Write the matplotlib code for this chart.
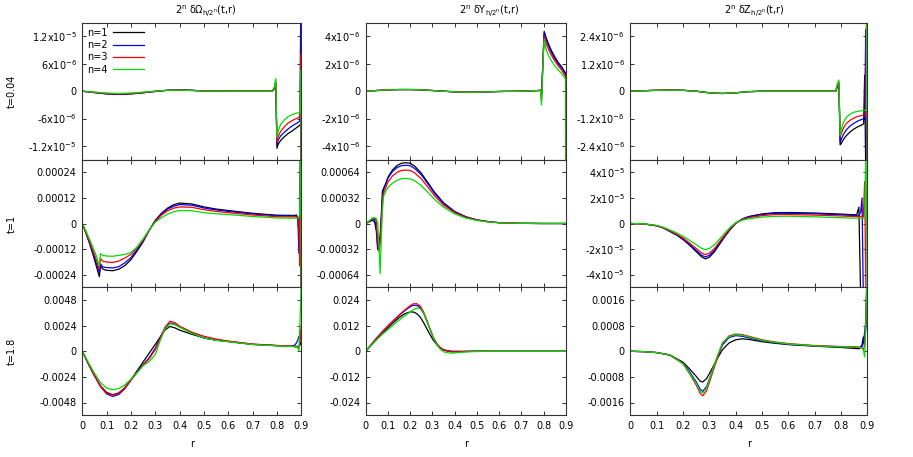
import numpy as np
from matplotlib import pyplot as plt

# curves: n=1..4, values in panel units (see *_unit)
labels = ['n=1', 'n=2', 'n=3', 'n=4']
colors = ['black', '#0000ff', '#ff0000', '#00dd00']

# ---- t=0.04, dOmega (units 1e-6)
om1_unit = 1e-6
om1_r = [0, 0.05, 0.1, 0.15, 0.2, 0.25, 0.3, 0.35, 0.4, 0.45, 0.5, 0.6, 0.7, 0.78, 0.79, 0.795,
         0.8, 0.805, 0.815, 0.83, 0.845, 0.86, 0.875, 0.888, 0.894, 0.898, 0.9]
om1_n1 = [0, -0.3, -0.6, -0.7, -0.6, -0.35, -0.05, 0.2, 0.3, 0.2, 0.05, 0, 0, 0, 0.6, 1.7,
          -12.5, -11.6, -10.8, -10.0, -9.3, -8.8, -8.2, -7.7, -7.4, -7.2, -20]
om1_n2 = [0, -0.3, -0.55, -0.65, -0.55, -0.3, -0.05, 0.2, 0.3, 0.2, 0.05, 0, 0, 0, 0.7, 2.0,
          -11.7, -10.7, -9.8, -9.0, -8.3, -7.7, -7.2, -6.8, -6.5, 20, -20]
om1_n3 = [0, -0.25, -0.5, -0.6, -0.5, -0.3, 0, 0.2, 0.25, 0.15, 0.05, 0, 0, 0, 0.8, 2.3,
          -11.2, -9.9, -8.8, -7.8, -7.0, -6.5, -6.1, -5.8, -5.5, 8, -20]
om1_n4 = [0, -0.2, -0.4, -0.5, -0.4, -0.2, 0, 0.2, 0.25, 0.15, 0.05, 0, 0, 0, 1.0, 2.8,
          -10.2, -8.7, -7.3, -6.3, -5.6, -5.2, -4.9, -4.7, -4.6, 4.6, -20]

# ---- t=0.04, dY (units 1e-6)
y1_unit = 1e-6
y1_r = [0, 0.05, 0.1, 0.15, 0.2, 0.25, 0.3, 0.35, 0.4, 0.45, 0.5, 0.55, 0.6, 0.7, 0.78, 0.785,
        0.79, 0.797, 0.802, 0.81, 0.82, 0.835, 0.85, 0.865, 0.88, 0.895, 0.899, 0.9]
y1_n1 = [0, 0.05, 0.1, 0.12, 0.12, 0.1, 0.05, 0, -0.05, -0.07, -0.07, -0.05, -0.02, 0, 0.05, 0.1,
         -0.3, 2.5, 4.36, 3.95, 3.5, 2.95, 2.5, 2.1, 1.8, 1.4, 1.3, -10]
y1_n2 = [0, 0.05, 0.1, 0.12, 0.12, 0.1, 0.05, 0, -0.05, -0.07, -0.07, -0.05, -0.02, 0, 0.05, 0.1,
         -0.5, 2.4, 4.24, 3.8, 3.35, 2.8, 2.35, 1.98, 1.68, 1.3, 1.2, -10]
y1_n3 = [0, 0.05, 0.1, 0.12, 0.12, 0.1, 0.05, 0, -0.05, -0.07, -0.07, -0.05, -0.02, 0, 0.05, 0.1,
         -0.7, 2.3, 4.0, 3.55, 3.1, 2.6, 2.2, 1.85, 1.55, 1.15, 1.05, -10]
y1_n4 = [0, 0.05, 0.1, 0.12, 0.12, 0.1, 0.05, 0, -0.05, -0.07, -0.07, -0.05, -0.02, 0, 0.05, 0.1,
         -1.0, 2.2, 3.8, 3.1, 2.65, 2.2, 1.85, 1.55, 1.3, 0.95, 0.8, -10]

# ---- t=0.04, dZ (units 1e-6)
z1_unit = 1e-6
z1_r = [0, 0.05, 0.1, 0.15, 0.2, 0.25, 0.3, 0.35, 0.4, 0.45, 0.5, 0.6, 0.7, 0.78, 0.787, 0.792,
        0.797, 0.803, 0.81, 0.82, 0.835, 0.85, 0.865, 0.88, 0.886, 0.89, 0.894, 0.897, 0.899, 0.9]
z1_n1 = [0, 0.02, 0.04, 0.05, 0.04, 0, -0.07, -0.1, -0.07, -0.02, 0, 0, 0, 0, 0.2, 0.3,
         -2.35, -2.25, -2.1, -1.95, -1.78, -1.65, -1.55, -1.47, -1.43, 0.7, -3.5, -3.5, -3.5, -3.5]
z1_n2 = [0, 0.02, 0.04, 0.05, 0.04, 0, -0.07, -0.1, -0.07, -0.02, 0, 0, 0, 0, 0.25, 0.35,
         -2.24, -2.05, -1.88, -1.7, -1.52, -1.4, -1.3, -1.23, -1.2, -1.18, 2.7, -3.5, -3.5, -3.5]
z1_n3 = [0, 0.02, 0.04, 0.05, 0.04, 0, -0.07, -0.1, -0.07, -0.02, 0, 0, 0, 0, 0.3, 0.4,
         -2.02, -1.8, -1.6, -1.42, -1.27, -1.17, -1.1, -1.06, -1.05, -1.04, -1.03, 3.5, -3.5, -3.5]
z1_n4 = [0, 0.02, 0.04, 0.05, 0.04, 0, -0.07, -0.1, -0.07, -0.02, 0, 0, 0, 0, 0.35, 0.49,
         -1.95, -1.6, -1.35, -1.15, -1.0, -0.92, -0.88, -0.85, -0.84, -0.84, -0.84, -0.84, 3.5, -3.5]

# ---- t=1, dOmega (units 1e-5)
om2_unit = 1e-5
om2_r = [0, 0.015, 0.03, 0.045, 0.06, 0.07, 0.075, 0.085, 0.1, 0.125, 0.15, 0.175, 0.2, 0.225,
         0.25, 0.275, 0.3, 0.325, 0.35, 0.375, 0.4, 0.45, 0.5, 0.55, 0.6, 0.7, 0.8, 0.87, 0.88,
         0.886, 0.89, 0.894, 0.897, 0.9]
om2_n1 = [0, -4.5, -9.5, -15, -21, -25, -20, -21.5, -22, -22.2, -21.5, -19.8, -17, -13,
          -8.6, -3.2, 1.5, 4.8, 7.2, 8.8, 9.6, 9.2, 7.8, 6.8, 6.1, 4.8, 3.9, 3.8, 4.0,
          2.0, -3.6, -3.0, 40, -40]
om2_n2 = [0, -4.2, -9, -14, -19.5, -23, -19, -20.5, -20.7, -20.9, -20.3, -18.5, -16, -12.3,
          -8.2, -3.2, 1.3, 4.4, 6.7, 8.1, 8.9, 8.6, 7.3, 6.4, 5.7, 4.5, 3.6, 3.5, 3.6,
          2.0, -14, 0, 40, -40]
om2_n3 = [0, -4, -8.5, -13, -18, -21.5, -16.5, -17.8, -18.1, -18.3, -17.7, -16.2, -14.5, -11.5,
          -7.8, -3.1, 1.0, 3.9, 5.9, 7.2, 7.8, 7.6, 6.5, 5.7, 5.1, 4.0, 3.2, 3.1, 3.2,
          3.0, 1.0, -20, 40, -40]
om2_n4 = [0, -3.5, -7.5, -11.5, -16, -20, -14.2, -15, -15.3, -15.4, -15, -14.5, -13.7, -11,
          -7.2, -3.0, 0.6, 2.7, 4.4, 5.5, 6.1, 6.0, 5.1, 4.6, 4.2, 3.3, 2.6, 2.5, 2.5,
          2.5, 2.8, 5, 40, -40]

# ---- t=1, dY (units 1e-5)
y2_unit = 1e-5
y2_r = [0, 0.015, 0.03, 0.04, 0.048, 0.054, 0.06, 0.065, 0.07, 0.075, 0.08, 0.09, 0.1, 0.12,
        0.14, 0.16, 0.18, 0.2, 0.22, 0.25, 0.28, 0.31, 0.35, 0.4, 0.45, 0.5, 0.55, 0.6, 0.7,
        0.8, 0.9]
y2_n1 = [0, 2, 4, 2, -10, -33, -20, -16, 10, 40, 44, 50, 58, 67,
         72.5, 75.5, 76.2, 75.5, 72, 63, 51, 39, 26, 15, 8.5, 4.6, 2.4, 1.0, 0.2, 0, 0]
y2_n2 = [0, 2.5, 5.5, 5, -5, -30, -30, -20, 5, 30, 42, 49, 57, 65,
         70, 72.5, 73, 72.5, 69, 61, 49.5, 37.5, 25, 14.5, 8, 4.4, 2.3, 1.0, 0.2, 0, 0]
y2_n3 = [0, 3, 6.5, 6.7, 4, -20, -35, -25, 0, 25, 38, 45, 52, 59.5,
         64, 66.5, 67, 66.5, 63.5, 56, 45.5, 34.5, 23, 13.5, 7.5, 4.2, 2.2, 0.9, 0.2, 0, 0]
y2_n4 = [0, 3, 6.7, 7.5, 6, 0, -30, -63, -20, 15, 34, 40, 45, 50.5,
         54, 56, 56.5, 56, 53.5, 47.5, 39, 30, 20.5, 12, 6.7, 3.8, 2.0, 0.8, 0.2, 0, 0]

# ---- t=1, dZ (units 1e-5)
z2_unit = 1e-5
z2_r = [0, 0.05, 0.1, 0.125, 0.15, 0.175, 0.2, 0.225, 0.25, 0.27, 0.285, 0.3, 0.32, 0.34,
        0.36, 0.38, 0.4, 0.425, 0.45, 0.5, 0.55, 0.6, 0.7, 0.8, 0.85, 0.86, 0.868, 0.875,
        0.88, 0.885, 0.89, 0.895, 0.9]
z2_n1 = [0, -0.03, -0.18, -0.35, -0.62, -0.9, -1.25, -1.7, -2.2, -2.6, -2.77, -2.65, -2.2, -1.6,
         -1.0, -0.45, 0.0, 0.35, 0.55, 0.75, 0.85, 0.86, 0.82, 0.74, 0.68, 0.7, 1.28, -6,
         -6, -6, -6, -6, -6]
z2_n2 = [0, -0.03, -0.18, -0.34, -0.6, -0.87, -1.2, -1.63, -2.1, -2.48, -2.62, -2.5, -2.08, -1.5,
         -0.93, -0.4, 0.02, 0.33, 0.52, 0.7, 0.8, 0.8, 0.76, 0.68, 0.62, 0.62, 0.6, 0.9,
         2.0, -6, -6, -6, -6]
z2_n3 = [0, -0.03, -0.17, -0.32, -0.57, -0.82, -1.13, -1.53, -1.95, -2.3, -2.44, -2.33, -1.95, -1.4,
         -0.87, -0.36, 0.04, 0.3, 0.46, 0.62, 0.7, 0.7, 0.66, 0.59, 0.55, 0.55, 0.55, 0.55,
         0.55, 0.5, 3.3, -6, -6]
z2_n4 = [0, -0.02, -0.15, -0.29, -0.5, -0.72, -1.0, -1.32, -1.65, -1.93, -2.05, -1.96, -1.65, -1.2,
         -0.72, -0.28, 0.06, 0.26, 0.37, 0.5, 0.56, 0.57, 0.52, 0.45, 0.42, 0.42, 0.42, 0.42,
         0.42, 0.42, 0.42, 6, -6]

# ---- t=1.8, dOmega (units 1e-4)
om3_unit = 1e-4
om3_r = [0, 0.025, 0.05, 0.075, 0.1, 0.125, 0.15, 0.175, 0.2, 0.225, 0.25, 0.275, 0.3, 0.32,
         0.34, 0.36, 0.38, 0.4, 0.45, 0.5, 0.55, 0.6, 0.7, 0.8, 0.86, 0.875, 0.885, 0.89,
         0.895, 0.9]
om3_n1 = [0, -12, -23, -32.5, -38.5, -40.7, -39, -34, -26.6, -18.3, -10, -1.7, 6.6, 13.3,
          20, 23.3, 22, 19.8, 16, 12.5, 10.5, 9.2, 6.5, 5.3, 4.7, 4.6, 4.5, 4.5, 6, 10]
om3_n2 = [0, -11.5, -22.5, -33, -40, -42.3, -40.5, -35, -27, -19.5, -12.5, -6, 3, 13,
          22, 26.6, 25.5, 23, 17.5, 12.5, 10.5, 9.2, 6.5, 5.3, 4.7, 6, 10, 14, 12, 20]
om3_n3 = [0, -11.5, -22.5, -33, -39.5, -41, -39.5, -34.5, -27, -20, -13, -7, 1.5, 12,
          22.5, 28.2, 27, 23.5, 18, 14.1, 11.5, 9.6, 6.8, 5.5, 4.9, 4.2, 3.5, 3.0, 10, 25]
om3_n4 = [0, -10.5, -20.5, -29.5, -34.5, -36, -35, -31.5, -26, -20, -13.5, -9.5, -3, 10,
          21, 25.8, 25, 22.5, 17, 12.5, 10.3, 9, 6.3, 5.1, 4.5, 4.2, 4.0, 0, 30, 70]

# ---- t=1.8, dY (units 1e-3)
y3_unit = 1e-3
y3_r = [0, 0.025, 0.05, 0.075, 0.1, 0.125, 0.15, 0.175, 0.2, 0.215, 0.23, 0.245, 0.26, 0.275,
        0.29, 0.305, 0.32, 0.335, 0.35, 0.37, 0.39, 0.42, 0.45, 0.5, 0.55, 0.6, 0.7, 0.8, 0.9]
y3_n1 = [0, 2.9, 5.7, 8.4, 11, 13.5, 15.8, 17.6, 18.5, 18.4, 17.6, 16, 13.5, 10.5,
         7.6, 5.0, 3.0, 1.6, 0.7, 0.2, 0, 0, 0, 0, 0, 0, 0, 0, 0]
y3_n2 = [0, 3.2, 6.3, 9.2, 11.9, 14.4, 16.8, 19, 20.9, 21.6, 21.5, 20.5, 17.9, 14.1,
         10.0, 6.2, 3.5, 1.7, 0.7, 0.1, -0.2, -0.2, -0.1, 0.05, 0.05, 0, 0, 0, 0]
y3_n3 = [0, 3.2, 6.3, 9.2, 11.9, 14.5, 17, 19.3, 21.4, 22.3, 22.3, 21.2, 18.5, 14.5,
         10.2, 6.3, 3.5, 1.7, 0.6, 0.0, -0.3, -0.2, -0.1, 0.05, 0.05, 0, 0, 0, 0]
y3_n4 = [0, 2.8, 5.5, 8.0, 10.2, 12.4, 14.6, 16.6, 18.5, 19.6, 20.3, 20.0, 17.8, 14.2,
         10.0, 6.0, 3.0, 1.0, -0.2, -0.8, -0.8, -0.6, -0.3, -0.1, 0, 0, 0, 0, 0]

# ---- t=1.8, dZ (units 1e-4)
z3_unit = 1e-4
z3_r = [0, 0.05, 0.1, 0.15, 0.2, 0.225, 0.25, 0.265, 0.275, 0.29, 0.31, 0.33, 0.35, 0.375,
        0.4, 0.425, 0.45, 0.5, 0.55, 0.6, 0.7, 0.8, 0.85, 0.87, 0.88, 0.885, 0.89, 0.895, 0.9]
z3_n1 = [0, -0.1, -0.4, -1.1, -3.4, -5.5, -7.8, -9.3, -9.6, -8.5, -5.5, -2.3, 0.5, 2.6,
         3.6, 3.9, 3.7, 3.0, 2.5, 2.1, 1.6, 1.2, 0.9, 0.8, 2.0, 4.5, 3, 8, 30]
z3_n2 = [0, -0.1, -0.4, -1.2, -3.7, -6.4, -9.5, -11.8, -12.5, -11, -6.5, -2, 2, 4.3,
         4.9, 4.7, 4.2, 3.3, 2.7, 2.2, 1.7, 1.4, 1.3, 1.2, 1.5, 2.5, 6, 10, 30]
z3_n3 = [0, -0.1, -0.4, -1.2, -3.9, -7.0, -10.5, -13.1, -13.9, -12.3, -7.3, -2.3, 2.6, 4.8,
         5.4, 5.2, 4.7, 3.6, 2.9, 2.4, 1.8, 1.5, 1.4, 1.3, 1.0, 0.5, 2, 10, 30]
z3_n4 = [0, -0.1, -0.4, -1.1, -3.8, -6.8, -10.0, -12.5, -13.0, -11.4, -6.5, -1.5, 2.6, 4.6,
         5.2, 5.0, 4.5, 3.4, 2.8, 2.3, 1.7, 1.4, 1.3, 1.2, 1.0, 0.5, -1.8, 10, 30]

titles = [r'2$^{\mathrm{n}}$ δΩ$_{\mathrm{h/2}^{\mathrm{n}}}$(t,r)',
          r'2$^{\mathrm{n}}$ δY$_{\mathrm{h/2}^{\mathrm{n}}}$(t,r)',
          r'2$^{\mathrm{n}}$ δZ$_{\mathrm{h/2}^{\mathrm{n}}}$(t,r)']
title_x = [206, 489, 754]
row_labels = ['t=0.04', 't=1', 't=1.8']

def sci(m, e):
    return m + r'x10$^{\mathrm{' + e + '}}$'

panels = [
    [(om1_r, [om1_n1, om1_n2, om1_n3, om1_n4], om1_unit, 1.5e-5,
      [-1.2e-5, -6e-6, 0, 6e-6, 1.2e-5],
      [sci('-1.2', '-5'), sci('-6', '-6'), '0', sci('6', '-6'), sci('1.2', '-5')]),
     (y1_r, [y1_n1, y1_n2, y1_n3, y1_n4], y1_unit, 5e-6,
      [-4e-6, -2e-6, 0, 2e-6, 4e-6],
      [sci('-4', '-6'), sci('-2', '-6'), '0', sci('2', '-6'), sci('4', '-6')]),
     (z1_r, [z1_n1, z1_n2, z1_n3, z1_n4], z1_unit, 3e-6,
      [-2.4e-6, -1.2e-6, 0, 1.2e-6, 2.4e-6],
      [sci('-2.4', '-6'), sci('-1.2', '-6'), '0', sci('1.2', '-6'), sci('2.4', '-6')])],
    [(om2_r, [om2_n1, om2_n2, om2_n3, om2_n4], om2_unit, 3e-4,
      [-0.00024, -0.00012, 0, 0.00012, 0.00024],
      ['-0.00024', '-0.00012', '0', '0.00012', '0.00024']),
     (y2_r, [y2_n1, y2_n2, y2_n3, y2_n4], y2_unit, 8e-4,
      [-0.00064, -0.00032, 0, 0.00032, 0.00064],
      ['-0.00064', '-0.00032', '0', '0.00032', '0.00064']),
     (z2_r, [z2_n1, z2_n2, z2_n3, z2_n4], z2_unit, 5e-5,
      [-4e-5, -2e-5, 0, 2e-5, 4e-5],
      [sci('-4', '-5'), sci('-2', '-5'), '0', sci('2', '-5'), sci('4', '-5')])],
    [(om3_r, [om3_n1, om3_n2, om3_n3, om3_n4], om3_unit, 6e-3,
      [-0.0048, -0.0024, 0, 0.0024, 0.0048],
      ['-0.0048', '-0.0024', '0', '0.0024', '0.0048']),
     (y3_r, [y3_n1, y3_n2, y3_n3, y3_n4], y3_unit, 3e-2,
      [-0.024, -0.012, 0, 0.012, 0.024],
      ['-0.024', '-0.012', '0', '0.012', '0.024']),
     (z3_r, [z3_n1, z3_n2, z3_n3, z3_n4], z3_unit, 2e-3,
      [-0.0016, -0.0008, 0, 0.0008, 0.0016],
      ['-0.0016', '-0.0008', '0', '0.0008', '0.0016'])],
]

# axes boxes in pixels (left, width) and (top, bottom)
W, H = 913, 457
cols = [(82.3, 219.0), (365.7, 200.3), (630.3, 237.0)]
rows = [(22.7, 159.7), (159.7, 287.3), (287.3, 415.3)]
rticks = [0, 0.1, 0.2, 0.3, 0.4, 0.5, 0.6, 0.7, 0.8, 0.9]
edge = '#333333'
fs = 7

fig = plt.figure(figsize=(W / 100, H / 100), dpi=100)
for i, (top, bot) in enumerate(rows):
    for j, (left, width) in enumerate(cols):
        r, ys, unit, lim, yt, ytl = panels[i][j]
        ax = fig.add_axes([left / W, 1 - bot / H, width / W, (bot - top) / H])
        for k in range(4):
            ax.plot(r, np.array(ys[k]) * unit, color=colors[k], lw=0.9, label=labels[k])
        ax.set_xlim(0, 0.9)
        ax.set_ylim(-lim, lim)
        ax.set_yticks(yt)
        ax.set_yticklabels(ytl)
        ax.set_xticks(rticks)
        if i == 2:
            ax.set_xticklabels(['0'] + ['%.1f' % v for v in rticks[1:]])
            ax.set_xlabel('r', fontsize=fs, labelpad=6)
        else:
            ax.set_xticklabels([])
        ax.tick_params(direction='in', top=True, right=True, length=3, width=0.7,
                       labelsize=fs, color=edge, pad=4)
        for s in ax.spines.values():
            s.set_color(edge)
            s.set_linewidth(0.8)
        if i == 0:
            fig.text(title_x[j] / W, 1 - 11 / H, titles[j], fontsize=fs,
                     ha='center', va='center')
        if j == 0:
            fig.text(12 / W, 1 - (top + bot) / 2 / H, row_labels[i], rotation=90,
                     fontsize=fs, va='center', ha='center')
        if i == 0 and j == 0:
            ax.legend(loc='upper left', frameon=False, markerfirst=False, fontsize=fs,
                      handlelength=3.2, labelspacing=0.25, borderaxespad=0.3,
                      handletextpad=0.5, borderpad=0.2)

fig.savefig('out.png', dpi=100)
